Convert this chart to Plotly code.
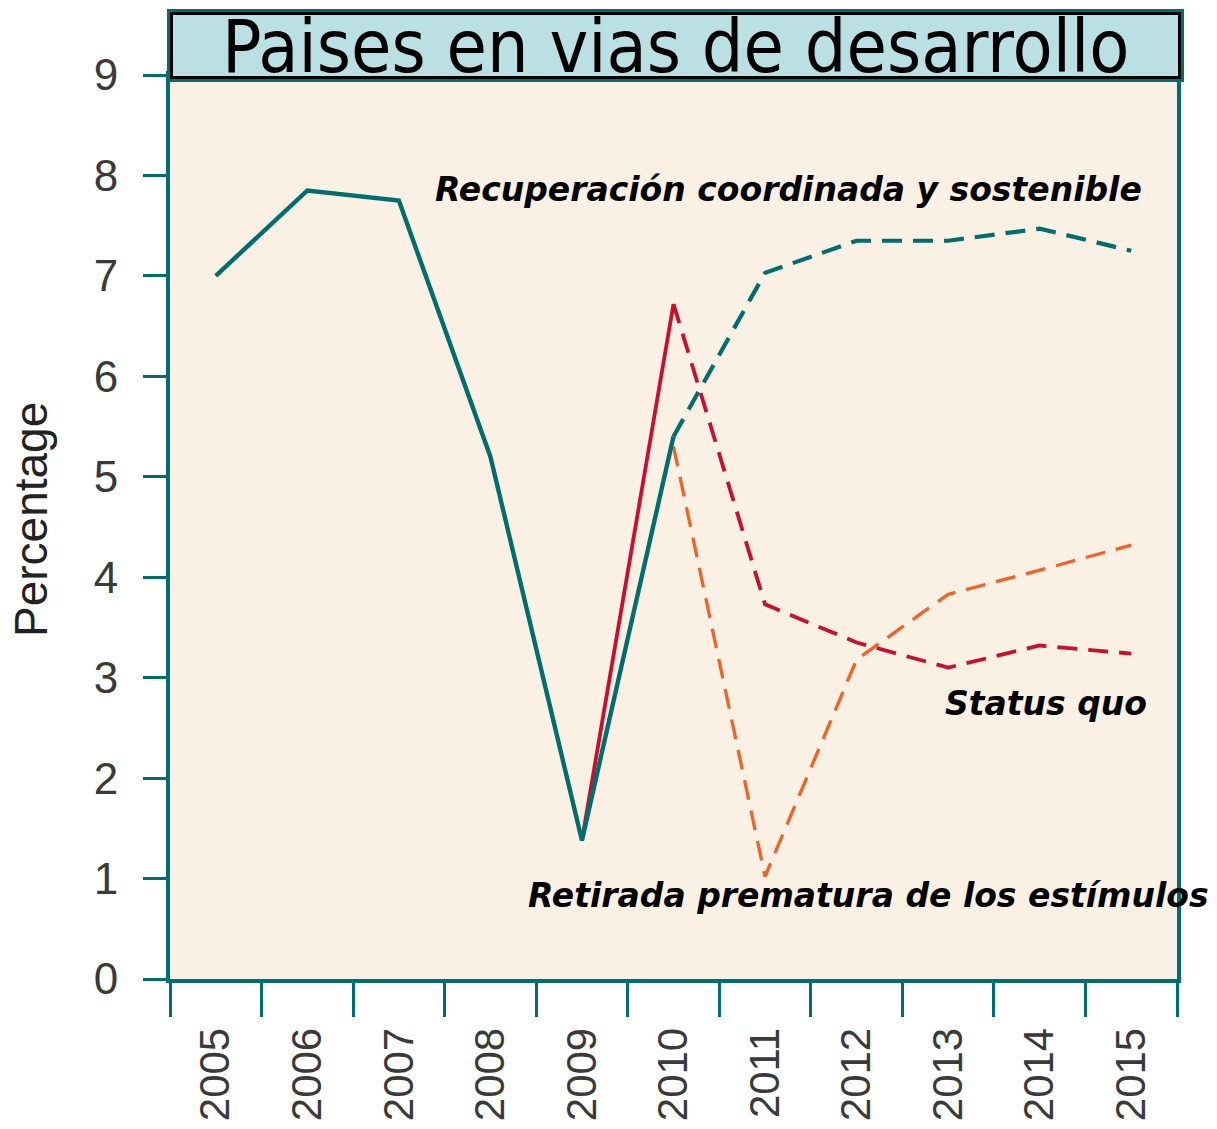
import plotly.graph_objects as go

# ---------------- data ----------------
years = ["2005", "2006", "2007", "2008", "2009", "2010",
         "2011", "2012", "2013", "2014", "2015"]
hist_years = years[:5]              # 2005-2009
scen_years = years[5:]              # 2010-2015
historical = [7.0, 7.85, 7.75, 5.2, 1.38]
recuperacion = [5.4, 7.03, 7.35, 7.35, 7.47, 7.25]
status_quo = [6.72, 3.73, 3.35, 3.1, 3.32, 3.24]
retirada = [5.3, 1.02, 3.18, 3.83, 4.07, 4.32]
y_ticks = [0, 1, 2, 3, 4, 5, 6, 7, 8, 9]

title_text = "Paises en vias de desarrollo"
ytitle_text = "Percentage"
lab_recup = "Recuperación coordinada y sostenible"
lab_status = "Status quo"
lab_retirada = "Retirada prematura de los estímulos"

# ---------------- styles ----------------
TEAL = "#006e6e"
RED = "#c8102e"
ORANGE = "#f26226"
BG = "#faf1e4"
BOXFILL = "#bbe0e3"
DASH = "20px,11px"

OFF = 8                       # page body margin
W, H = 1217 - OFF, 1129 - OFF
ML, MR, MT, MB = 170 - OFF, 40, 75 - OFF, 150
PW = W - ML - MR
PH = H - MT - MB


def px(x):
    """reference-page x pixel -> paper coordinate"""
    return (x - OFF - ML) / PW


def py(y):
    """reference-page y pixel -> paper coordinate"""
    return (H - MB - (y - OFF)) / PH


fig = go.Figure()

# orange scenario (dashed)
fig.add_trace(go.Scatter(x=scen_years, y=retirada, mode="lines",
                         line=dict(color=ORANGE, width=3.3, dash=DASH)))
# red status quo: solid from 2009 to 2010, dashed after
fig.add_trace(go.Scatter(x=[hist_years[-1], scen_years[0]],
                         y=[historical[-1], status_quo[0]], mode="lines",
                         line=dict(color=RED, width=3.8)))
fig.add_trace(go.Scatter(x=scen_years, y=status_quo, mode="lines",
                         line=dict(color=RED, width=3.8, dash=DASH)))
# teal: history solid to 2010, then dashed
fig.add_trace(go.Scatter(x=hist_years + [scen_years[0]],
                         y=historical + [recuperacion[0]], mode="lines",
                         line=dict(color=TEAL, width=4.4)))
fig.add_trace(go.Scatter(x=scen_years, y=recuperacion, mode="lines",
                         line=dict(color=TEAL, width=4.2, dash=DASH)))

fig.update_layout(
    width=W, height=H,
    margin=dict(l=ML, r=MR, t=MT, b=MB),
    paper_bgcolor="white",
    plot_bgcolor=BG,
    showlegend=False,
    font=dict(family="Liberation Sans, Arial, sans-serif", color="#222"),
)

fig.update_xaxes(
    type="category", categoryorder="array", categoryarray=years,
    range=[-0.5, len(years) - 0.5],
    tickson="boundaries", ticks="outside", ticklen=34, tickwidth=3,
    tickcolor=TEAL, showline=True, linecolor=TEAL, linewidth=4,
    mirror=True, showgrid=False, zeroline=False,
    tickangle=-90, automargin=False, ticklabelstandoff=28,
    tickfont=dict(family="Liberation Sans, Arial, sans-serif", size=42,
                  color="#3a3a3a"),
)
fig.update_yaxes(
    range=[0, 9], tickmode="array", tickvals=y_ticks,
    ticktext=[str(v) for v in y_ticks],
    ticks="outside", ticklen=23, tickwidth=3, tickcolor=TEAL,
    showline=True, linecolor=TEAL, linewidth=4, mirror=True,
    showgrid=False, zeroline=False, automargin=False,
    ticklabelstandoff=16,
    tickfont=dict(family="Liberation Sans Narrow, Arial Narrow, Liberation Sans",
                  size=44, color="#3a3a3a"),
)

# title box (teal outer, black inner border, light blue fill)
shapes = [
    dict(type="rect", xref="paper", yref="paper",
         x0=px(167), x1=px(1184), y0=py(82), y1=py(9),
         fillcolor=TEAL, line=dict(width=0), layer="above"),
    dict(type="rect", xref="paper", yref="paper",
         x0=px(170), x1=px(1181), y0=py(79), y1=py(12),
         fillcolor="black", line=dict(width=0), layer="above"),
    dict(type="rect", xref="paper", yref="paper",
         x0=px(173), x1=px(1178), y0=py(76), y1=py(15),
         fillcolor=BOXFILL, line=dict(width=0), layer="above"),
]
fig.update_layout(shapes=shapes)

annots = [
    dict(text=title_text, xref="paper", yref="paper",
         x=px(675), y=py(46), xanchor="center", yanchor="middle",
         showarrow=False,
         font=dict(family="DejaVu Sans Condensed, DejaVu Sans", size=73,
                   color="black")),
    dict(text=ytitle_text, xref="paper", yref="paper",
         x=px(31), y=py(520), xanchor="center", yanchor="middle",
         textangle=-90, showarrow=False,
         font=dict(family="Liberation Sans, Arial", size=46, color="#222")),
    dict(text="<b><i>" + lab_recup + "</i></b>", xref="paper", yref="paper",
         x=px(433), y=py(190), xanchor="left", yanchor="middle",
         showarrow=False,
         font=dict(family="DejaVu Sans", size=33, color="black")),
    dict(text="<b><i>" + lab_status + "</i></b>", xref="paper", yref="paper",
         x=px(943), y=py(703), xanchor="left", yanchor="middle",
         showarrow=False,
         font=dict(family="DejaVu Sans", size=33, color="black")),
    dict(text="<b><i>" + lab_retirada + "</i></b>", xref="paper", yref="paper",
         x=px(526), y=py(895), xanchor="left", yanchor="middle",
         showarrow=False,
         font=dict(family="DejaVu Sans", size=33, color="black")),
]
fig.update_layout(annotations=annots)

fig.write_html("out.html")
